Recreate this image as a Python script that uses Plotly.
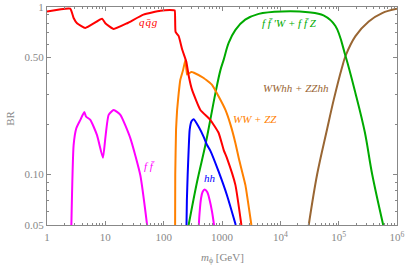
import numpy as np
import plotly.graph_objects as go

# ---------------- data ----------------
m_qqg = [1, 2.5, 2.86, 3.27, 4.54, 8.8, 10, 13.9, 23.6, 45, 88, 148, 155, 160, 181, 207, 245,
         270, 307, 426, 630, 877, 1070, 1220, 1700, 2150]
br_qqg = [0.94, 0.977, 0.86, 0.80, 0.75, 0.85, 0.80, 0.74, 0.80, 0.90, 0.95, 0.957, 0.955, 0.71,
          0.67, 0.56, 0.47, 0.385, 0.32, 0.243, 0.212, 0.177, 0.14, 0.125, 0.0865, 0.05]

m_vv = [157, 158, 163, 170, 181, 193, 215, 236, 252, 300, 330, 485, 675, 877, 1145, 1390, 1700,
        1940, 2520, 3190]
br_vv = [0.045, 0.10, 0.185, 0.243, 0.306, 0.368, 0.42, 0.485, 0.395, 0.41, 0.405, 0.377, 0.343,
         0.292, 0.243, 0.20, 0.154, 0.125, 0.0865, 0.05]

m_hh = [245, 250, 258, 268, 279, 300, 327, 398, 485, 555, 630, 877, 1220, 1720]
br_hh = [0.045, 0.07, 0.10, 0.14, 0.185, 0.208, 0.214, 0.193, 0.168, 0.15, 0.139, 0.104, 0.075, 0.05]

m_ffv = [268, 374, 519, 630, 771, 940, 1070, 1300, 1700, 2500, 4260, 10700, 30000, 55000, 88000,
         131000, 194000, 280000, 376000, 580000]
br_ffv = [0.05, 0.0906, 0.15, 0.212, 0.306, 0.42, 0.485, 0.61, 0.73, 0.84, 0.91, 0.94, 0.93, 0.89,
          0.77, 0.51, 0.306, 0.18, 0.10, 0.05]

m_vvhh = [30700, 42700, 63000, 82400, 115000, 131000, 194000, 328000, 557000, 1000000]
br_vvhh = [0.05, 0.10, 0.185, 0.28, 0.44, 0.51, 0.67, 0.82, 0.92, 0.975]

m_ff = [2.6, 2.86, 3.18, 3.73, 4.36, 4.66, 5.53, 7.2, 9.1, 10, 11.4, 13.9, 18.1, 26.8, 39.8, 52]
br_ff = [0.045, 0.15, 0.189, 0.212, 0.236, 0.222, 0.212, 0.172, 0.126, 0.165, 0.227, 0.243, 0.227,
         0.165, 0.099, 0.05]

m_ff2 = [398, 414, 437, 466, 505, 555, 615, 676, 741]
br_ff2 = [0.048, 0.0598, 0.072, 0.0789, 0.0815, 0.0789, 0.0703, 0.0598, 0.048]

x_tickvals = [1, 10, 100, 1000, 1e4, 1e5, 1e6]
x_ticktext = ["1", "10", "100", "1000", "10<sup>4</sup>", "10<sup>5</sup>", "10<sup>6</sup>"]
y_tickvals = [0.05, 0.10, 0.50, 1.0]
y_ticktext = ["0.05", "0.10", "0.50", "1"]

# ---------------- styling ----------------
RED = "#ff0000"
ORANGE = "#ff8000"
BLUE = "#0000ff"
GREEN = "#00aa00"
BROWN = "#996633"
MAGENTA = "#ff00ff"
GRAY = "#888888"
FONT = "Liberation Serif"

series = [
    (m_ff, br_ff, MAGENTA, 0.5),
    (m_ff2, br_ff2, MAGENTA, 1.0),
    (m_vvhh, br_vvhh, BROWN, 1.0),
    (m_ffv, br_ffv, GREEN, 1.0),
    (m_hh, br_hh, BLUE, 0.5),
    (m_vv, br_vv, ORANGE, 0.3),
    (m_qqg, br_qqg, RED, 0.4),
]

fig = go.Figure()
for mx, by, col, sm in series:
    fig.add_trace(go.Scatter(x=mx, y=by, mode="lines",
                             line=dict(color=col, width=2, shape="spline", smoothing=sm),
                             showlegend=False))

labels = [
    ("q\u200aq\u0304\u200ag", 56, 0.815, RED),
    ("f f\u0304 \u2032W + f f\u0304 Z", 14600, 0.805, GREEN),
    ("WWhh + ZZhh", 18900, 0.327, BROWN),
    ("WW + ZZ", 3670, 0.214, ORANGE),
    ("hh", 630, 0.095, BLUE),
    ("f f\u0304", 57, 0.113, MAGENTA),
]
for txt, lx, ly, col in labels:
    fig.add_annotation(x=np.log10(lx), y=np.log10(ly), xref="x", yref="y",
                       text="<i>" + txt + "</i>", showarrow=False,
                       font=dict(family=FONT, size=11, color=col),
                       xanchor="center", yanchor="middle")

minor_x = [k * 10 ** d for d in range(0, 6) for k in range(2, 10)]
minor_y = [k / 100 for k in range(6, 10)] + [k / 10 for k in range(2, 10)]

fig.update_xaxes(type="log", range=[0, 6], showgrid=False, zeroline=False, automargin=False,
                 showline=True, linecolor=GRAY, linewidth=1, mirror="ticks",
                 ticks="inside", ticklen=4, tickcolor=GRAY, tickwidth=1,
                 tickmode="array", tickvals=x_tickvals, ticktext=x_ticktext,
                 ticklabelstandoff=2,
                 tickfont=dict(family=FONT, size=11, color=GRAY),
                 minor=dict(tickmode="array", tickvals=minor_x, ticks="inside",
                            ticklen=2, tickcolor=GRAY, showgrid=False))
fig.update_yaxes(type="log", range=[np.log10(0.05), 0], showgrid=False, zeroline=False,
                 automargin=False,
                 showline=True, linecolor=GRAY, linewidth=1, mirror="ticks",
                 ticks="inside", ticklen=4, tickcolor=GRAY, tickwidth=1,
                 tickmode="array", tickvals=y_tickvals, ticktext=y_ticktext,
                 tickfont=dict(family=FONT, size=11, color=GRAY),
                 minor=dict(tickmode="array", tickvals=minor_y, ticks="inside",
                            ticklen=2, tickcolor=GRAY, showgrid=False))

fig.add_annotation(xref="paper", yref="paper", x=-0.106, y=0.491, text="BR",
                   showarrow=False, textangle=-90,
                   font=dict(family=FONT, size=11, color=GRAY),
                   xanchor="center", yanchor="middle")
fig.add_annotation(xref="paper", yref="paper", x=0.5, y=-0.151,
                   text="<i>m</i><sub>\u03d5</sub> [GeV]", showarrow=False,
                   font=dict(family=FONT, size=11, color=GRAY),
                   xanchor="center", yanchor="middle")

fig.update_layout(width=407, height=268, margin=dict(l=47, r=10, t=7, b=43),
                  paper_bgcolor="white", plot_bgcolor="white")

fig.write_html("out.html", config={"displayModeBar": False},
               post_script="document.body.style.margin='0';document.body.style.overflow='hidden';")
